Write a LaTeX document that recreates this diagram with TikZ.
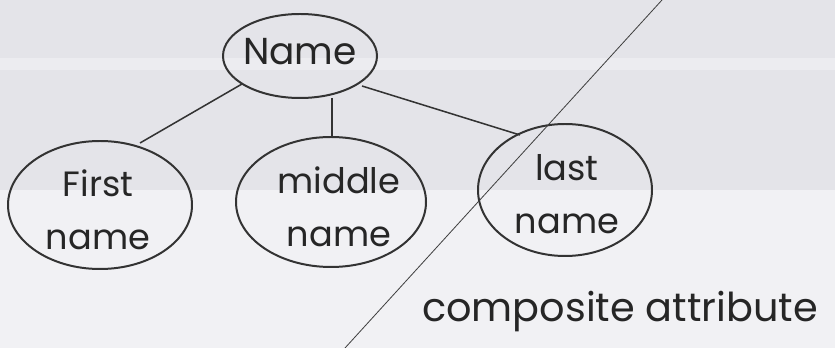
\documentclass[tikz,border=0pt]{standalone}
\usepackage{fontspec}
\setmainfont{Poppins}
\begin{document}
\begin{tikzpicture}[x=0.03cm,y=-0.03cm,
  ink/.style={draw=black!80, line width=1.7pt},
  hand/.style={text=black!85, font=\fontsize{30}{45}\selectfont, align=center},
  link/.style={draw=black!80, line width=1.3pt}]
\definecolor{paperA}{RGB}{228,228,233}
\definecolor{paperB}{RGB}{241,241,244}
% paper
\fill[paperA] (0,0) rectangle (835,190);
\fill[paperB] (0,190) rectangle (835,348);
\fill[paperB!60!paperA] (0,58) rectangle (835,70);
\useasboundingbox (0,0) rectangle (835,348);

% attribute ellipses
\draw[ink] (300,56) ellipse [x radius=77, y radius=42];
\node[hand, font=\fontsize{32}{40}\selectfont] (name) at (300,52) {Name};

\draw[ink] (100,205) ellipse [x radius=92, y radius=64];
\node[hand] (first) at (98,210) {First\\name};

\draw[ink] (331,202) ellipse [x radius=95, y radius=65];
\node[hand] (middle) at (339,207) {middle\\name};

\draw[ink] (565,190) ellipse [x radius=87, y radius=66];
\node[hand] (last) at (567,194) {last\\name};

% connectors between the ellipse outlines
\coordinate (nL) at (242,84);
\coordinate (nM) at (332,98);
\coordinate (nR) at (362,86);
\coordinate (fT) at (140,143);
\coordinate (mT) at (332,137);
\coordinate (lT) at (520,135);
\draw[link] (nL) -- (fT);
\draw[link] (nM) -- (mT);
\draw[link] (nR) -- (lT);

% stray pen stroke across the sheet
\coordinate (sA) at (662,0);
\coordinate (sB) at (345,348);
\draw[black!75, line width=0.7pt] (sA) -- (sB);

% caption
\node[hand, font=\fontsize{34}{40}\selectfont, anchor=base west] (cap) at (418,322) {composite attribute};
\end{tikzpicture}
\end{document}
